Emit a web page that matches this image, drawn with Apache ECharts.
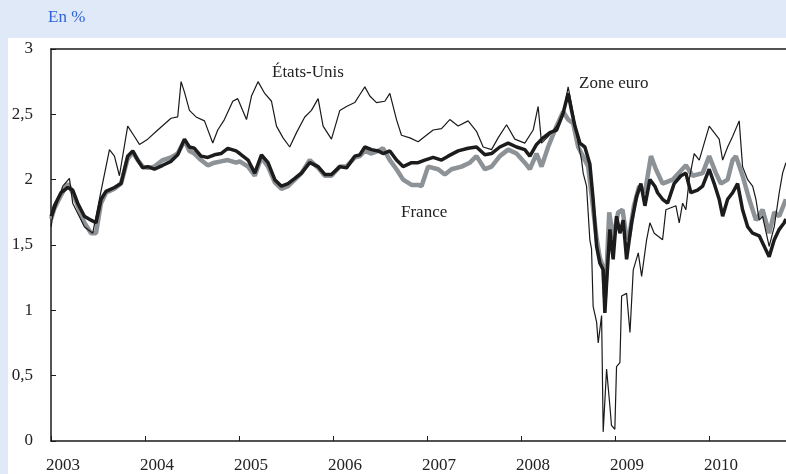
<!DOCTYPE html>
<html>
<head>
<meta charset="utf-8">
<script src="https://cdn.jsdelivr.net/npm/echarts@6/dist/echarts.min.js"></script>
<style>
  html, body { margin: 0; padding: 0; background: #dfe9f8; }
  #chart { width: 786px; height: 474px; }
</style>
</head>
<body>
<div id="chart"></div>
<script>
// Taux à 10 ans (en %)
const yearTicks = [2003, 2004, 2005, 2006, 2007, 2008, 2009, 2010];

const usYears = [2003.002, 2003.018, 2003.125, 2003.196, 2003.231, 2003.355, 2003.444, 2003.529, 2003.622, 2003.675,
  2003.728, 2003.816, 2003.888, 2003.941, 2004.029, 2004.136, 2004.277, 2004.348, 2004.384, 2004.420,
  2004.473, 2004.543, 2004.633, 2004.721, 2004.774, 2004.845, 2004.934, 2004.987, 2005.080, 2005.133,
  2005.203, 2005.274, 2005.346, 2005.399, 2005.469, 2005.540, 2005.612, 2005.700, 2005.771, 2005.842,
  2005.895, 2005.984, 2006.073, 2006.144, 2006.232, 2006.285, 2006.339, 2006.392, 2006.463, 2006.552,
  2006.605, 2006.676, 2006.729, 2006.818, 2006.906, 2006.977, 2007.066, 2007.155, 2007.243, 2007.332,
  2007.438, 2007.527, 2007.598, 2007.687, 2007.757, 2007.847, 2007.935, 2008.041, 2008.130, 2008.183,
  2008.219, 2008.289, 2008.379, 2008.449, 2008.502, 2008.556, 2008.609, 2008.645, 2008.662, 2008.698,
  2008.733, 2008.751, 2008.768, 2008.805, 2008.822, 2008.858, 2008.875, 2008.911, 2008.946, 2008.963,
  2008.999, 2009.017, 2009.053, 2009.071, 2009.124, 2009.160, 2009.195, 2009.248, 2009.284, 2009.337,
  2009.372, 2009.418, 2009.507, 2009.542, 2009.649, 2009.684, 2009.720, 2009.755, 2009.790, 2009.843,
  2009.897, 2009.950, 2010.003, 2010.056, 2010.109, 2010.146, 2010.199, 2010.252, 2010.322, 2010.358,
  2010.412, 2010.465, 2010.500, 2010.535, 2010.571, 2010.641, 2010.695, 2010.748, 2010.784, 2010.819];
const usRates = [1.64, 1.72, 1.95, 2.01, 1.82, 1.64, 1.59, 1.90, 2.23, 2.18,
  2.03, 2.41, 2.33, 2.27, 2.31, 2.38, 2.47, 2.48, 2.75, 2.67,
  2.53, 2.48, 2.45, 2.28, 2.38, 2.46, 2.60, 2.62, 2.46, 2.64,
  2.75, 2.66, 2.60, 2.41, 2.32, 2.25, 2.36, 2.48, 2.53, 2.62,
  2.41, 2.31, 2.53, 2.56, 2.59, 2.65, 2.71, 2.64, 2.59, 2.60,
  2.66, 2.46, 2.34, 2.32, 2.29, 2.33, 2.38, 2.39, 2.46, 2.41,
  2.45, 2.37, 2.25, 2.23, 2.32, 2.42, 2.31, 2.28, 2.38, 2.56,
  2.28, 2.33, 2.41, 2.50, 2.71, 2.51, 2.28, 2.15, 2.05, 1.95,
  1.54, 1.47, 1.03, 0.91, 0.75, 0.96, 0.07, 0.55, 0.27, 0.12,
  0.09, 0.57, 0.60, 1.11, 1.13, 0.83, 1.31, 1.44, 1.26, 1.54,
  1.67, 1.59, 1.54, 1.77, 1.80, 1.67, 1.82, 1.77, 2.00, 2.20,
  2.15, 2.28, 2.41, 2.36, 2.31, 2.15, 2.25, 2.33, 2.45, 2.10,
  2.00, 1.95, 1.85, 1.69, 1.72, 1.49, 1.64, 1.90, 2.05, 2.13];

const euroYears = [2003.002, 2003.036, 2003.106, 2003.178, 2003.231, 2003.284, 2003.355, 2003.426, 2003.479, 2003.532,
  2003.585, 2003.675, 2003.745, 2003.816, 2003.870, 2003.923, 2003.976, 2004.029, 2004.100, 2004.189,
  2004.277, 2004.348, 2004.420, 2004.473, 2004.526, 2004.596, 2004.668, 2004.739, 2004.809, 2004.881,
  2004.969, 2005.008, 2005.097, 2005.168, 2005.239, 2005.309, 2005.381, 2005.452, 2005.522, 2005.594,
  2005.665, 2005.753, 2005.842, 2005.913, 2005.984, 2006.073, 2006.144, 2006.232, 2006.285, 2006.339,
  2006.410, 2006.480, 2006.533, 2006.605, 2006.676, 2006.746, 2006.836, 2006.906, 2006.977, 2007.066,
  2007.155, 2007.225, 2007.332, 2007.438, 2007.527, 2007.616, 2007.687, 2007.775, 2007.864, 2007.953,
  2008.041, 2008.095, 2008.166, 2008.236, 2008.308, 2008.379, 2008.449, 2008.502, 2008.538, 2008.574,
  2008.627, 2008.680, 2008.733, 2008.768, 2008.805, 2008.840, 2008.875, 2008.893, 2008.911, 2008.946,
  2008.981, 2009.017, 2009.053, 2009.088, 2009.124, 2009.177, 2009.230, 2009.276, 2009.319, 2009.372,
  2009.425, 2009.454, 2009.507, 2009.560, 2009.630, 2009.702, 2009.755, 2009.808, 2009.879, 2009.933,
  2010.003, 2010.056, 2010.109, 2010.146, 2010.199, 2010.252, 2010.305, 2010.358, 2010.412, 2010.465,
  2010.535, 2010.588, 2010.641, 2010.695, 2010.748, 2010.801, 2010.819];
const euroRates = [1.72, 1.80, 1.90, 1.94, 1.92, 1.82, 1.72, 1.69, 1.67, 1.85,
  1.91, 1.94, 1.97, 2.18, 2.22, 2.15, 2.09, 2.10, 2.08, 2.11,
  2.14, 2.19, 2.31, 2.25, 2.24, 2.18, 2.17, 2.19, 2.20, 2.24,
  2.22, 2.20, 2.15, 2.05, 2.19, 2.13, 2.00, 1.95, 1.97, 2.01,
  2.05, 2.13, 2.10, 2.04, 2.04, 2.10, 2.09, 2.18, 2.19, 2.25,
  2.23, 2.22, 2.20, 2.22, 2.15, 2.10, 2.13, 2.13, 2.15, 2.17,
  2.15, 2.18, 2.22, 2.24, 2.25, 2.19, 2.20, 2.25, 2.28, 2.25,
  2.23, 2.18, 2.27, 2.32, 2.36, 2.38, 2.51, 2.66, 2.53, 2.41,
  2.28, 2.25, 2.12, 1.85, 1.49, 1.36, 1.31, 0.98, 1.21, 1.62,
  1.39, 1.72, 1.59, 1.69, 1.39, 1.67, 1.87, 1.97, 1.80, 2.00,
  1.95, 1.90, 1.85, 1.82, 1.97, 2.03, 2.05, 1.90, 1.92, 1.95,
  2.08, 1.97, 1.85, 1.72, 1.85, 1.90, 1.97, 1.77, 1.64, 1.59,
  1.57, 1.49, 1.41, 1.54, 1.62, 1.67, 1.70];

const franceYears = [2003.002, 2003.036, 2003.106, 2003.178, 2003.231, 2003.284, 2003.355, 2003.426, 2003.479, 2003.532,
  2003.585, 2003.675, 2003.745, 2003.816, 2003.870, 2003.923, 2003.976, 2004.029, 2004.100, 2004.189,
  2004.277, 2004.348, 2004.420, 2004.473, 2004.526, 2004.596, 2004.668, 2004.739, 2004.809, 2004.881,
  2004.969, 2005.008, 2005.097, 2005.168, 2005.239, 2005.309, 2005.381, 2005.452, 2005.522, 2005.594,
  2005.665, 2005.753, 2005.842, 2005.913, 2005.984, 2006.073, 2006.144, 2006.232, 2006.285, 2006.339,
  2006.410, 2006.480, 2006.533, 2006.605, 2006.676, 2006.746, 2006.836, 2006.906, 2006.942, 2007.012,
  2007.119, 2007.190, 2007.261, 2007.368, 2007.456, 2007.527, 2007.616, 2007.687, 2007.775, 2007.864,
  2007.953, 2008.041, 2008.095, 2008.166, 2008.219, 2008.289, 2008.379, 2008.449, 2008.502, 2008.556,
  2008.609, 2008.680, 2008.715, 2008.751, 2008.805, 2008.840, 2008.875, 2008.893, 2008.911, 2008.939,
  2008.981, 2009.034, 2009.081, 2009.124, 2009.152, 2009.202, 2009.258, 2009.319, 2009.383, 2009.436,
  2009.507, 2009.613, 2009.755, 2009.826, 2009.933, 2010.003, 2010.074, 2010.127, 2010.199, 2010.252,
  2010.287, 2010.358, 2010.429, 2010.500, 2010.571, 2010.641, 2010.695, 2010.748, 2010.819];
const franceRates = [1.70, 1.78, 1.88, 1.97, 1.90, 1.80, 1.67, 1.59, 1.59, 1.82,
  1.90, 1.93, 1.97, 2.16, 2.21, 2.15, 2.10, 2.09, 2.10, 2.15,
  2.17, 2.20, 2.30, 2.22, 2.20, 2.15, 2.11, 2.13, 2.14, 2.15,
  2.13, 2.14, 2.10, 2.03, 2.17, 2.10, 1.98, 1.93, 1.95, 2.00,
  2.05, 2.15, 2.09, 2.03, 2.03, 2.10, 2.10, 2.17, 2.18, 2.22,
  2.20, 2.22, 2.24, 2.15, 2.08, 2.00, 1.96, 1.96, 1.95, 2.10,
  2.08, 2.04, 2.08, 2.10, 2.13, 2.18, 2.08, 2.10, 2.18, 2.23,
  2.20, 2.13, 2.08, 2.20, 2.10, 2.25, 2.41, 2.52, 2.46, 2.43,
  2.25, 2.15, 2.10, 1.88, 1.55, 1.40, 1.33, 1.10, 1.30, 1.75,
  1.55, 1.75, 1.77, 1.55, 1.57, 1.80, 1.95, 1.90, 2.18, 2.08,
  1.97, 2.00, 2.11, 2.03, 2.05, 2.18, 2.05, 1.97, 2.00, 2.15,
  2.18, 2.03, 1.85, 1.69, 1.77, 1.59, 1.75, 1.72, 1.85];

const pairs = (xs, ys) => xs.map((x, i) => [x, ys[i]]);
const serif = "'Liberation Serif', 'DejaVu Serif', serif";

const myChart = echarts.init(document.getElementById("chart"));

const option = {
  animation: false,
  backgroundColor: "#dfe9f8",
  textStyle: { fontFamily: serif },
  graphic: [
    {
      // panneau blanc
      type: "rect",
      z: -10,
      silent: true,
      shape: { x: 8, y: 38, width: 778, height: 436 },
      style: { fill: "#ffffff" },
    },
    {
      type: "text",
      left: 48,
      top: 9,
      style: { text: "En %", fill: "#2f63d8", font: "17px " + serif },
    },
    {
      type: "text",
      left: 272,
      top: 64,
      style: { text: "États-Unis", fill: "#222", font: "17px " + serif },
    },
    {
      type: "text",
      left: 579,
      top: 75,
      style: { text: "Zone euro", fill: "#222", font: "17px " + serif },
    },
    {
      type: "text",
      left: 401,
      top: 204,
      style: { text: "France", fill: "#222", font: "17px " + serif },
    },
  ],
  grid: {
    left: 51,
    right: 0,
    top: 49,
    bottom: 32,
  },
  xAxis: [
    {
      type: "value",
      min: 2003,
      max: 2010.82,
      interval: 1,
      axisLine: { lineStyle: { color: "#1a1a1a", width: 1.5 } },
      axisTick: { inside: true, length: 5, lineStyle: { color: "#1a1a1a", width: 1 } },
      axisLabel: {
        color: "#222",
        fontSize: 17,
        fontFamily: serif,
        margin: 16,
        padding: [0, 0, 0, 24],
        showMaxLabel: false,
        formatter: (v) => (yearTicks.includes(v) ? String(v) : ""),
      },
      splitLine: { show: false },
    },
    {
      // bord supérieur du cadre
      type: "value",
      position: "top",
      min: 2003,
      max: 2010.82,
      axisLine: { show: true, onZero: false, lineStyle: { color: "#1a1a1a", width: 1.5 } },
      axisTick: { show: false },
      axisLabel: { show: false },
      splitLine: { show: false },
    },
  ],
  yAxis: {
    type: "value",
    min: 0,
    max: 3,
    interval: 0.5,
    axisLine: { show: true, lineStyle: { color: "#1a1a1a", width: 1.5 } },
    axisTick: { show: true, inside: true, length: 5, lineStyle: { color: "#1a1a1a", width: 1 } },
    axisLabel: {
      color: "#222",
      fontSize: 17,
      fontFamily: serif,
      margin: 18,
      formatter: (v) => String(v).replace(".", ","),
    },
    splitLine: { show: false },
  },
  series: [
    {
      name: "France",
      type: "line",
      data: pairs(franceYears, franceRates),
      showSymbol: false,
      lineStyle: { color: "#8d9297", width: 4.5 },
      z: 2,
    },
    {
      name: "Zone euro",
      type: "line",
      data: pairs(euroYears, euroRates),
      showSymbol: false,
      lineStyle: { color: "#1c1c1c", width: 3.5 },
      z: 3,
    },
    {
      name: "États-Unis",
      type: "line",
      data: pairs(usYears, usRates),
      showSymbol: false,
      lineStyle: { color: "#1a1a1a", width: 1.2 },
      z: 4,
    },
  ],
};

myChart.setOption(option);
</script>
</body>
</html>
